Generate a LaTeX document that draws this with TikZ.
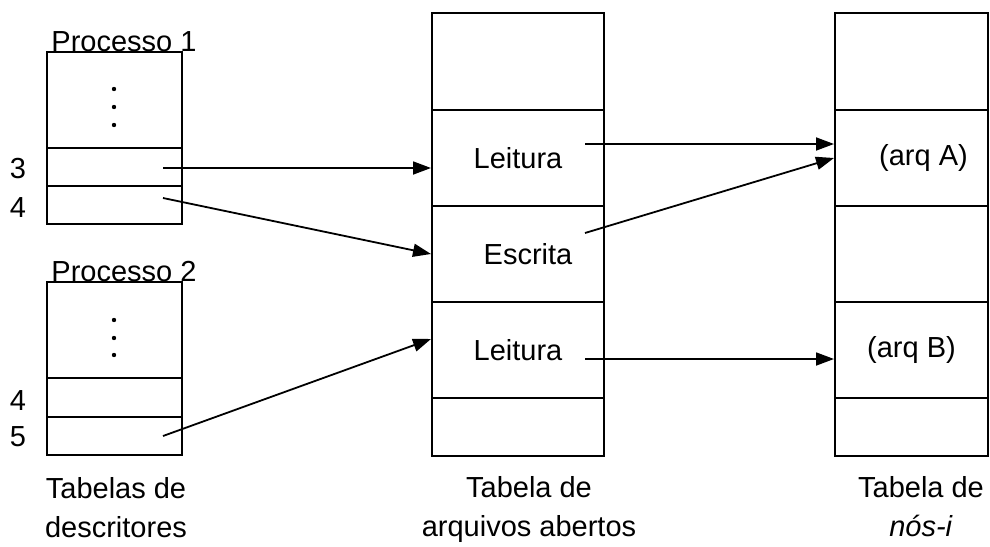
\documentclass[tikz,border=0pt]{standalone}
\usepackage{fontspec}
\setmainfont{Liberation Sans}
\usetikzlibrary{arrows.meta}

\begin{document}
\begin{tikzpicture}[x=0.5pt,y=-0.5pt,font=\fontsize{14.5}{19.5}\selectfont,
  cell/.style={draw,line width=1pt,inner sep=0pt},
  celll/.style={cell,minimum width=67.5pt},
  cellm/.style={cell,minimum width=86pt,minimum height=48pt},
  cellr/.style={cell,minimum width=76.5pt,minimum height=48pt},
  seta/.style={line width=0.9pt,-{Triangle[length=9pt,width=6.5pt]}}]
\useasboundingbox (0,0) rectangle (990,546);

% tabelas de descritores
\node[celll,minimum height=48pt] at (114.5,100) (d1) {};
\node[celll,minimum height=19pt] at (114.5,167) (p1a) {};
\node[celll,minimum height=19pt] at (114.5,205) (p1b) {};
\node[celll,minimum height=48pt] at (114.5,330) (d2) {};
\node[celll,minimum height=19.25pt] at (114.5,397.25) (p2a) {};
\node[celll,minimum height=19.25pt] at (114.5,435.75) (p2b) {};
\foreach \y in {89,107,125,320,338,355}
  \fill (114,\y) circle (1.1pt);

\node[anchor=base] at (124,51) (proc1) {Processo 1};
\node[anchor=base] at (124,281) (proc2) {Processo 2};
\node at (18,169) (n3) {3};
\node at (18,208) (n4a) {4};
\node at (18,401) (n4b) {4};
\node at (18,437) (n5) {5};

% tabela de arquivos abertos
\node[cellm,minimum height=48.5pt] at (518,61.5) (m0) {};
\node[cellm] at (518,158) (lei1) {Leitura};
\node[cellm] at (518,254) (esc) {\hspace{10pt}Escrita};
\node[cellm] at (518,350) (lei2) {Leitura};
\node[cellm,minimum height=29pt] at (518,427) (m4) {};

% tabela de nos-i
\node[cellr,minimum height=48.5pt] at (911.5,61.5) (r0) {};
\node[cellr] at (911.5,158) (ra) {\hspace{12pt}(arq A)};
\node[cellr] at (911.5,254) (r2) {};
\node[cellr] at (911.5,350) (rb) {(arq B)};
\node[cellr,minimum height=29pt] at (911.5,427) (r4) {};

\node[align=center,anchor=base] at (116,537) (tdesc) {Tabelas de\\descritores};
\node[align=center,anchor=base] at (529,536) (tarq) {Tabela de\\arquivos abertos};
\node[align=center,anchor=base] at (921,536) (tnos) {Tabela de\\\textit{nós-i}};

\coordinate (p3) at (163,168);
\coordinate (p4) at (163,198);
\coordinate (p5) at (163,436);
\coordinate (e1) at (585,144);
\coordinate (e2) at (585,233);
\coordinate (e3) at (585,359);

\draw[seta] (p3) -- (lei1.west |- p3);
\draw[seta] (p4) -- (esc.west);
\draw[seta] (p5) -- ([yshift=5.5pt]lei2.west);
\draw[seta] (e1) -- (ra.west |- e1);
\draw[seta] (e2) -- (ra.west);
\draw[seta] (e3) -- (rb.west |- e3);
\end{tikzpicture}
\end{document}
